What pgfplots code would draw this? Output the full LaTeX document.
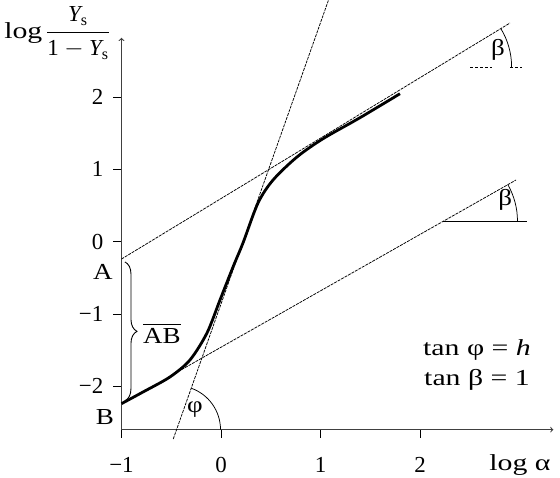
\documentclass[border=0pt]{standalone}
\usepackage{pgfplots}
\pgfplotsset{compat=1.18}
\usepackage{amsmath}
\usepackage{fontspec}
\setmainfont{Liberation Serif}
\newfontfamily\wide[FakeStretch=1.3]{Liberation Serif}
\newfontfamily\wider[FakeStretch=1.18]{Liberation Serif}
\usetikzlibrary{decorations.pathreplacing}

\begin{document}
\fontsize{23}{27}\selectfont
\begin{tikzpicture}
\begin{axis}[
  x=99.5bp, y=72.3bp,
  xmin=-1, xmax=3.34, ymin=-2.6, ymax=2.82,
  axis lines=left,
  axis line style={line width=1.1pt, black!75, ->},
  clip=false,
  xtick={-1,0,1,2}, xticklabels={−1,0,1,2},
  ytick={-2,-1,0,1,2}, yticklabels={−2,−1,0,1,2},
  tick align=outside,
  major tick length=8bp,
  tick style={black, line width=0.8pt},
  ticklabel style={font=\fontsize{23}{27}\selectfont, inner sep=0pt},
  xticklabel style={anchor=base, yshift=-35bp},
  yticklabel style={anchor=east, xshift=-10bp},
  /pgf/number format/assume math mode=true,
]
% bounding box corners
\coordinate (BL) at (axis cs:-2.221,-3.268);
\coordinate (TR) at (axis cs:3.407,3.343);

% asymptotes and tangent
\addplot[black, line width=0.75pt, dash pattern=on 3pt off 1pt] coordinates {(-1,-0.24) (2.905,3.025)};
\addplot[black, line width=0.75pt, dash pattern=on 3pt off 1pt] coordinates {(-0.5,-1.85) (2.965,0.853)};
\addplot[black, line width=0.75pt, dash pattern=on 3pt off 1pt] coordinates {(-0.48,-2.73) (1.08,3.34)};
% reference horizontals
\addplot[black, line width=0.75pt] coordinates {(2.236,0.284) (3.075,0.284)};
\addplot[black, line width=0.7pt, dash pattern=on 3pt off 2pt] coordinates {(2.503,2.416) (2.724,2.416)};
\addplot[black, line width=0.7pt, dash pattern=on 3pt off 2pt] coordinates {(2.905,2.416) (3.025,2.416)};

% binding curve
\addplot[black, line width=2.8pt, smooth, tension=0.5] coordinates {
(-1,-2.24) (-0.784,-2.079) (-0.513,-1.871) (-0.312,-1.636) (-0.141,-1.263)
(-0.010,-0.806) (0.121,-0.349) (0.221,-0.018) (0.372,0.535) (0.523,0.853)
(0.764,1.172) (1.025,1.424) (1.397,1.715) (1.799,2.047)};

% angle arcs
\draw[line width=0.75pt] (axis cs:2.177,2.416) ++(0:74bp) arc[start angle=0, end angle=31.3, radius=74bp];
\draw[line width=0.75pt] (axis cs:2.236,0.284) ++(0:74bp) arc[start angle=0, end angle=29.5, radius=74bp];
\draw[line width=0.75pt] (axis cs:-0.447,-2.6) ++(0:44bp) arc[start angle=0, end angle=70.5, radius=44bp];

% brace
\draw[decorate, decoration={brace, amplitude=12bp}, line width=0.9pt] (axis cs:-0.965,-0.28) -- (axis cs:-0.965,-2.2);

% labels
\node at (axis cs:-1.648,2.887) {{\wide log}\,$\displaystyle\frac{\textit{Y}_{\text{s}}}{\text{1}-\textit{Y}_{\text{s}}}$};
\node at (axis cs:-1.186,-0.42) {\wider A};
\node at (axis cs:-1.166,-2.42) {\wider B};
\node at (axis cs:-0.593,-1.263) {\wider$\overline{\text{AB}}$};
\node at (axis cs:-0.261,-2.317) {\wider φ};
\node at (axis cs:2.784,2.651) {\wider β};
\node at (axis cs:2.857,0.577) {\wider β};
\node at (axis cs:2.573,-1.498) {\wide tan φ = \textit{h}};
\node at (axis cs:2.573,-1.913) {\wide tan β = 1};
\node at (axis cs:3.005,-3.09) {\wide log α};
\end{axis}
\pgfresetboundingbox
\path[use as bounding box] (BL) rectangle (TR);
\end{tikzpicture}
\end{document}
